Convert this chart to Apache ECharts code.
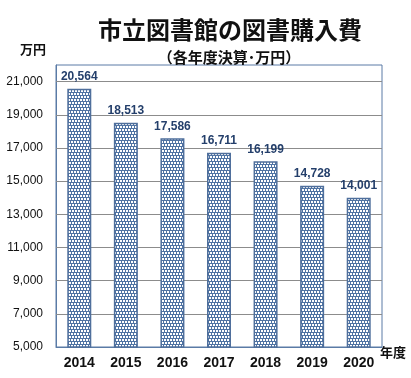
<!DOCTYPE html>
<html><head><meta charset="utf-8">
<script src="https://cdn.jsdelivr.net/npm/echarts@6/dist/echarts.min.js"></script>
<style>html,body{margin:0;padding:0;background:#fff}#c{width:411px;height:378px}</style>
</head><body><div id="c"></div>
<script>
var categories = ['2014','2015','2016','2017','2018','2019','2020'];
var values = [20564, 18513, 17586, 16711, 16199, 14728, 14001];
var yTicks = [5000, 7000, 9000, 11000, 13000, 15000, 17000, 19000, 21000];
var titleText = '市立図書館の図書購入費';
var subtitleText = '（各年度決算･万円）';
var yUnit = '万円';
var xUnit = '年度';

var cv = document.createElement('canvas');
cv.width = 6; cv.height = 6;
var cx = cv.getContext('2d');
cx.fillStyle = '#4f73a3'; cx.fillRect(0,0,6,6);
cx.fillStyle = '#ffffff';
cx.fillRect(0,0,2,2); cx.fillRect(3,0,2,2);
cx.fillRect(2,3,2,2); cx.fillRect(5,3,1,2); cx.fillRect(0,3,1,2);

var chart = echarts.init(document.getElementById('c'), null, {renderer:'canvas'});
function fmt(v){ return v.toLocaleString('en-US'); }
chart.setOption({
  animation: false,
  grid: {left:56, right:29, top:65, bottom:31, show:true, borderColor:'#5a7ba6', borderWidth:1, backgroundColor:'transparent'},
  graphic: [
    {type:'text', x:230, y:30, style:{text:titleText, textAlign:'center', textVerticalAlign:'middle', font:'bold 24px "Noto Sans CJK JP"', fill:'#111', shadowColor:'rgba(0,0,0,0.35)', shadowBlur:2, shadowOffsetX:1, shadowOffsetY:1}},
    {type:'text', x:229, y:57, style:{text:subtitleText, textAlign:'center', textVerticalAlign:'middle', font:'bold 15px "Noto Sans CJK JP"', fill:'#111'}},
    {type:'text', x:33, y:49, style:{text:yUnit, textAlign:'center', textVerticalAlign:'middle', font:'bold 13px "Noto Sans CJK JP"', fill:'#111'}},
    {type:'text', x:393, y:352, style:{text:xUnit, textAlign:'center', textVerticalAlign:'middle', font:'bold 13px "Noto Sans CJK JP"', fill:'#111'}}
  ],
  xAxis: {
    type:'category', data:categories,
    axisLine:{show:true, lineStyle:{color:'#5a7ba6', width:1}},
    axisTick:{show:false},
    axisLabel:{color:'#111', fontFamily:'Liberation Sans', fontWeight:'bold', fontSize:14, margin:9}
  },
  yAxis: {
    type:'value', min:5000, max:22000, interval:1000,
    axisLine:{show:true, lineStyle:{color:'#5a7ba6', width:1}},
    axisTick:{show:false},
    splitLine:{show:false},
    axisLabel:{color:'#111', fontFamily:'Liberation Sans', fontSize:12, margin:13,
      formatter:function(v){ return yTicks.indexOf(v) >= 0 ? fmt(v) : ''; }}
  },
  series: [
    {
      type:'line', data:[], z:1, silent:true,
      markLine:{silent:true, symbol:'none', z:1, label:{show:false},
        lineStyle:{color:'#8c8c8c', type:'solid', width:1},
        data: yTicks.filter(function(t){return t>5000;}).map(function(t){return {yAxis:t};})}
    },
    {
      type:'bar', data:values, barWidth:24, z:3,
      itemStyle:{color:{image:cv, repeat:'repeat'}, borderColor:'#4f6f9c', borderWidth:1.5},
      label:{show:true, position:'top', distance:6, color:'#243f6b', fontFamily:'Liberation Sans', fontWeight:'bold', fontSize:12,
        formatter:function(p){ return fmt(p.value); }}
    }
  ]
});
</script></body></html>
